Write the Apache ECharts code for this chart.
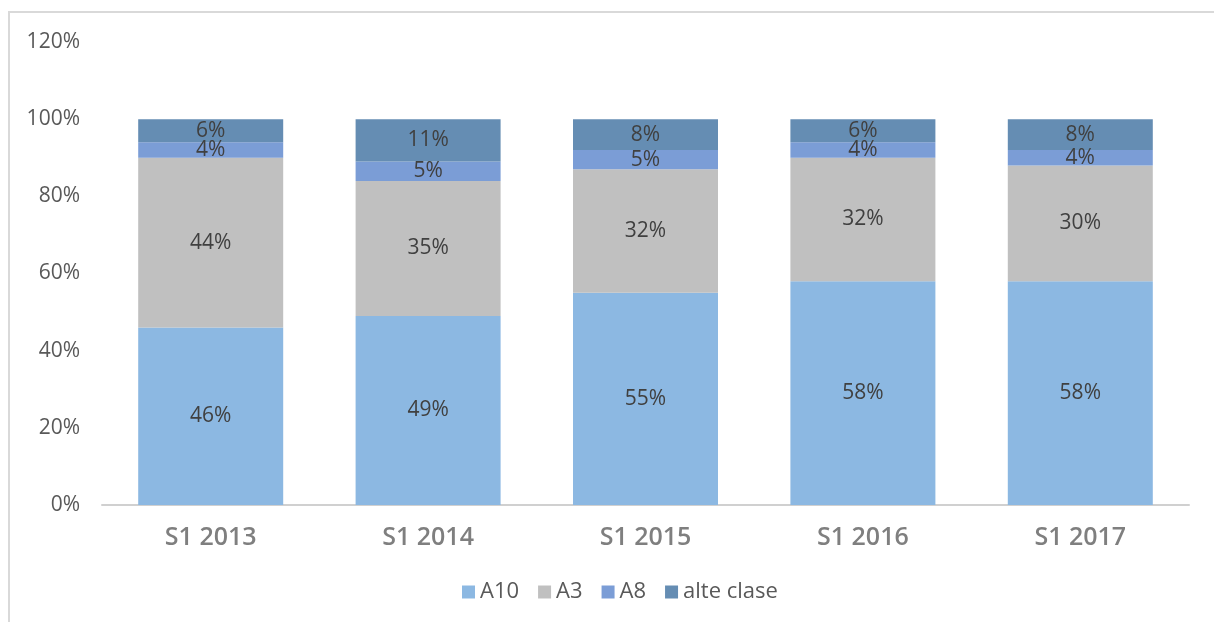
<!DOCTYPE html>
<html>
<head>
<meta charset="utf-8">
<script src="https://cdn.jsdelivr.net/npm/echarts@6/dist/echarts.min.js"></script>
<style>
  html, body { margin: 0; padding: 0; background: #fff; }
  #frame { position: absolute; left: 8px; top: 11px; width: 1220px; height: 630px; border: 2px solid #d9d9d9; box-sizing: border-box; }
  #chart { position: absolute; left: 0; top: 0; width: 1214px; height: 622px; }
</style>
</head>
<body>
<div id="frame"></div>
<div id="chart"></div>
<script>
// categories and shares (%) per series
const categories = ['S1 2013', 'S1 2014', 'S1 2015', 'S1 2016', 'S1 2017']
const a10 = [46, 49, 55, 58, 58]
const a3 = [44, 35, 32, 32, 30]
const a8 = [4, 5, 5, 4, 4]
const alteClase = [6, 11, 8, 6, 8]
const yTicks = [0, 20, 40, 60, 80, 100, 120]

const font = 'Open Sans, Lato, sans-serif'

const chart = echarts.init(document.getElementById('chart'))

const makeSeries = (name, data, color) => ({
    name,
    type: 'bar',
    stack: 'total',
    data,
    barWidth: 145,
    itemStyle: { color },
    label: {
        show: true,
        position: 'inside',
        formatter: p => p.value + '%',
        color: '#404040',
        fontFamily: font,
        fontSize: 21
    }
})

chart.setOption({
    animation: false,
    grid: { left: 102, right: 25, top: 42, bottom: 117 },
    legend: {
        bottom: 14,
        left: 457,
        itemWidth: 13,
        itemHeight: 13,
        itemGap: 19,
        icon: 'rect',
        textStyle: { color: '#595959', fontSize: 22, fontFamily: font },
        data: ['A10', 'A3', 'A8', 'alte clase']
    },
    xAxis: {
        type: 'category',
        data: categories,
        axisLine: { lineStyle: { color: '#d0d0d0', width: 2 } },
        axisTick: { show: false },
        axisLabel: { color: '#7f7f7f', fontSize: 25, fontWeight: 600, fontFamily: font, margin: 20 }
    },
    yAxis: {
        type: 'value',
        min: yTicks[0],
        max: yTicks[yTicks.length - 1],
        interval: 20,
        splitLine: { show: false },
        axisLine: { show: false },
        axisTick: { show: false },
        axisLabel: { color: '#595959', fontSize: 21, fontFamily: font, margin: 22, formatter: v => v + '%' }
    },
    series: [
        makeSeries('A10', a10, '#8cb8e2'),
        makeSeries('A3', a3, '#c0c0c0'),
        makeSeries('A8', a8, '#7b9dd6'),
        makeSeries('alte clase', alteClase, '#658db3')
    ]
})
</script>
</body>
</html>
